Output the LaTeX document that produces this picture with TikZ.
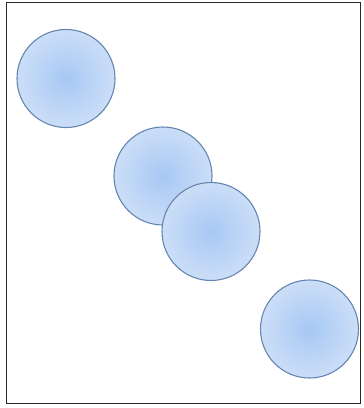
\documentclass[tikz,border=0pt]{standalone}
\definecolor{ballin}{RGB}{166,200,244}
\definecolor{ballout}{RGB}{204,222,247}
\definecolor{balledge}{RGB}{100,134,176}
\definecolor{framec}{RGB}{40,40,40}
\tikzset{
  ball/.style={circle, minimum size=98pt, inner sep=0pt, draw=balledge, line width=1.1pt,
    inner color=ballin, outer color=ballout},
}
\begin{document}
\begin{tikzpicture}[x=1pt,y=-1pt]
\useasboundingbox (0,0) rectangle (364,408);
\fill[white] (0,0) rectangle (364,408);
\node[draw=framec, line width=0.9pt, minimum width=354pt, minimum height=401pt, inner sep=0pt] (frame) at (183,202.5) {};
\node[ball] (b1) at (66,78.5) {};
\node[ball] (b2) at (163,176) {};
\node[ball] (b3) at (211,231.5) {};
\node[ball] (b4) at (309.5,329) {};
\end{tikzpicture}
\end{document}
